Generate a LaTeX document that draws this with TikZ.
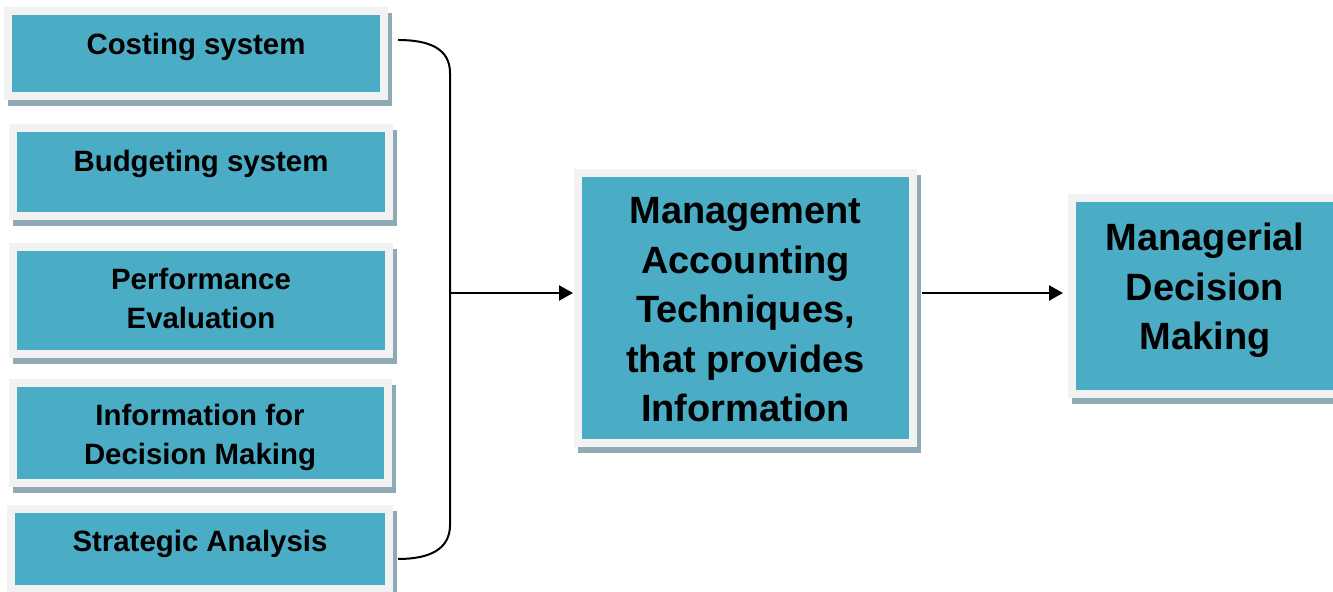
\documentclass[tikz,border=0pt]{standalone}
\usepackage{fontspec}
\setmainfont{Liberation Sans}
\usetikzlibrary{positioning,shadows,arrows.meta}

\tikzset{
	box/.style={rectangle, draw=framegray, fill=boxteal, line width=4pt,
		inner sep=0pt, outer sep=0pt,
		drop shadow={shadow xshift=2pt, shadow yshift=-3pt, opacity=1,
			fill=shadowgray, draw=shadowgray, line width=4pt}},
	boxtext/.style={font=\bfseries\fontsize{14.7}{19.5}\selectfont,
		align=center, inner sep=0pt},
	bigtext/.style={font=\bfseries\fontsize{19}{24.75}\selectfont,
		align=center, inner sep=0pt},
	wire/.style={line width=1pt},
	link/.style={line width=1.1pt, -{Triangle[length=7pt, width=7.5pt]}},
}

\begin{document}
\begin{tikzpicture}[x=0.5pt, y=-0.5pt]

	% Define colors
	\definecolor{boxteal}{RGB}{75,172,198}
	\definecolor{framegray}{RGB}{242,242,242}
	\definecolor{shadowgray}{RGB}{143,170,180}

	\clip (0,0) rectangle (1333,592);

	% Draw the five boxes on the left
	\node[box, minimum width=188pt, minimum height=42.5pt] (cost) at (196,54) {};
	\node[box, minimum width=188pt, minimum height=44pt] (budget) at (201,172.5) {};
	\node[box, minimum width=188pt, minimum height=53.5pt] (perform) at (201,300.5) {};
	\node[box, minimum width=187.5pt, minimum height=50pt] (inform) at (200,433) {};
	\node[box, minimum width=189pt, minimum height=40pt] (strategy) at (200,549) {};

	\node[boxtext, below=10.5pt of cost.north] (costtext) {Costing system};
	\node[boxtext, below=10.5pt of budget.north] (budgettext) {Budgeting system};
	\node[boxtext, below=10.5pt of perform.north] (performtext) {Performance\\Evaluation};
	\node[boxtext, below=10.5pt of inform.north] (informtext) {Information for\\Decision Making};
	\node[boxtext, below=10.5pt of strategy.north] (strategytext) {Strategic Analysis};

	% Draw the middle and right boxes
	\node[box, minimum width=167.5pt, minimum height=135pt] (tech) at (745.5,308) {};
	\node[box, minimum width=133pt, minimum height=98pt] (decide) at (1205,296) {};

	\node[bigtext, below=12pt of tech.north] (techtext)
		{Management\\Accounting\\Techniques,\\that provides\\Information};
	\node[bigtext, below=12.5pt of decide.north] (decidetext)
		{Managerial\\Decision\\Making};

	% Draw the bracket and the arrows
	\coordinate (trunk) at (450,293);
	\coordinate (bendtop) at (450,73);
	\coordinate (bendbot) at (450,525);

	\draw[wire] ([shift={(7pt,7pt)}]cost.east) .. controls +(16pt,0) and +(0,12pt) .. (bendtop)
		-- (bendbot) .. controls +(0,-12pt) and +(16pt,0) .. ([shift={(4.5pt,-5pt)}]strategy.east);

	\draw[link, shorten >=2.5pt] (trunk) -- (trunk -| tech.west);
	\draw[link, shorten <=4.5pt, shorten >=4.5pt] (trunk -| tech.east) -- (trunk -| decide.west);

\end{tikzpicture}
\end{document}
